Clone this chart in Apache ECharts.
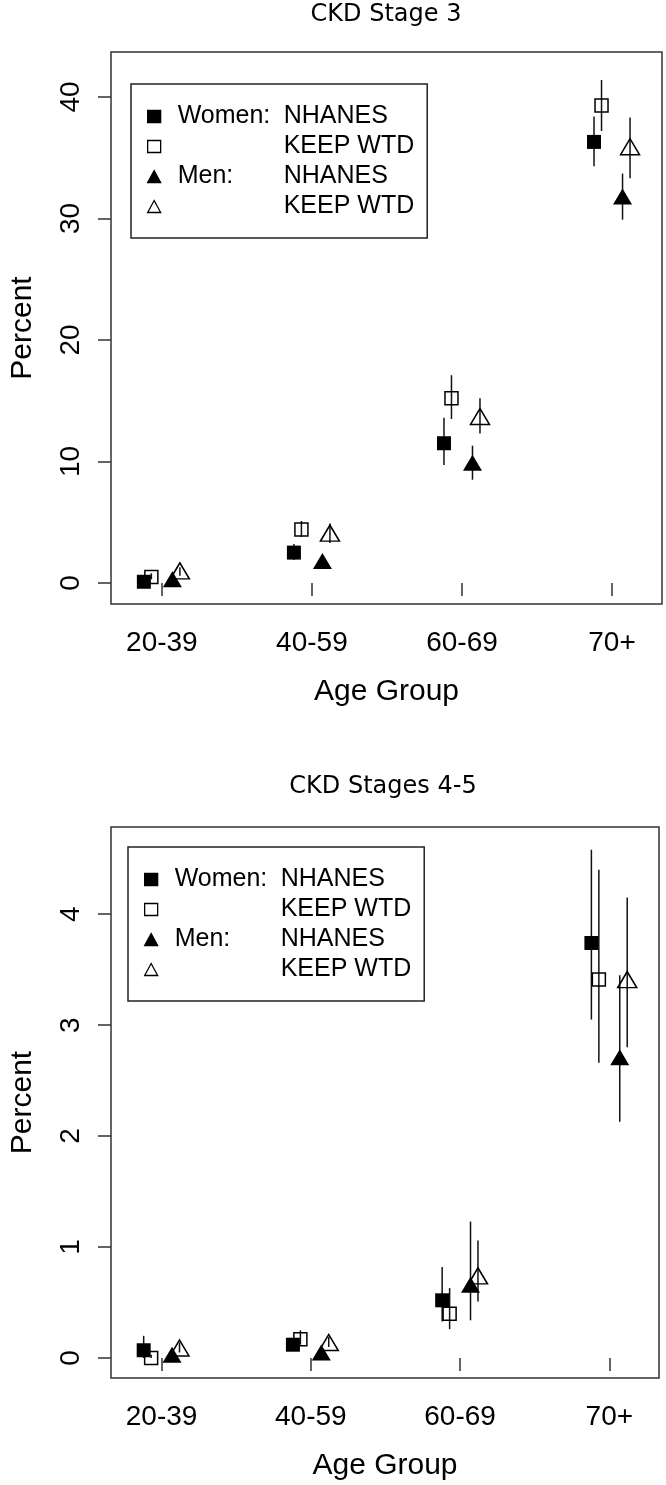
<!DOCTYPE html>
<html>
<head>
  <meta charset="utf-8">
  <title>CKD prevalence by age group</title>
  <script src="https://cdn.jsdelivr.net/npm/echarts@6/dist/echarts.min.js"></script>
  <style>
    html, body { margin: 0; padding: 0; background: #fff; }
  </style>
</head>
<body>
  <div id="main" style="width:666px;height:1485px"></div>
  <script type="text/javascript">
    // age groups on the x axis
    var ageGroups = ['20-39', '40-59', '60-69', '70+'];

    // CKD stage 3, percent (point, lower, upper)
    var s3WomenNhanes    = [0.1, 2.5, 11.5, 36.3];
    var s3WomenNhanesLo  = [0.0, 1.9, 9.7, 34.3];
    var s3WomenNhanesHi  = [0.3, 3.2, 13.6, 38.4];
    var s3WomenKeep      = [0.5, 4.4, 15.2, 39.3];
    var s3WomenKeepLo    = [0.3, 3.8, 13.5, 37.2];
    var s3WomenKeepHi    = [0.8, 5.1, 17.1, 41.4];
    var s3MenNhanes      = [0.3, 1.8, 9.9, 31.8];
    var s3MenNhanesLo    = [0.1, 1.5, 8.5, 29.9];
    var s3MenNhanesHi    = [0.5, 2.1, 11.3, 33.7];
    var s3MenKeep        = [1.0, 4.1, 13.7, 35.9];
    var s3MenKeepLo      = [0.6, 3.3, 12.3, 33.3];
    var s3MenKeepHi      = [1.3, 4.9, 15.2, 38.3];

    // CKD stages 4-5, percent
    var s45WomenNhanes   = [0.07, 0.12, 0.52, 3.74];
    var s45WomenNhanesLo = [0.0, 0.08, 0.33, 3.05];
    var s45WomenNhanesHi = [0.2, 0.16, 0.82, 4.58];
    var s45WomenKeep     = [0.0, 0.17, 0.40, 3.41];
    var s45WomenKeepLo   = [0.0, 0.12, 0.26, 2.66];
    var s45WomenKeepHi   = [0.03, 0.25, 0.63, 4.40];
    var s45MenNhanes     = [0.03, 0.05, 0.66, 2.71];
    var s45MenNhanesLo   = [0.0, 0.02, 0.34, 2.13];
    var s45MenNhanesHi   = [0.08, 0.09, 1.23, 3.45];
    var s45MenKeep       = [0.09, 0.14, 0.74, 3.41];
    var s45MenKeepLo     = [0.05, 0.10, 0.51, 2.80];
    var s45MenKeepHi     = [0.14, 0.19, 1.06, 4.15];

    var s3Ticks  = [0, 10, 20, 30, 40];
    var s45Ticks = [0, 1, 2, 3, 4];

    var groupNames = ['Women NHANES', 'Women KEEP WTD', 'Men NHANES', 'Men KEEP WTD'];
    var legendText = {
      'Women NHANES': '{s| }{a|Women:}{b|NHANES}',
      'Women KEEP WTD': '{s| }{a| }{b|KEEP WTD}',
      'Men NHANES': '{s| }{a|Men:}{b|NHANES}',
      'Men KEEP WTD': '{s| }{a| }{b|KEEP WTD}'
    };

    // dodge of each group around the age tick
    var dodge = [-0.12, -0.07, 0.07, 0.12];
    var looks = [
      { symbol: 'rect', size: 14, filled: true },
      { symbol: 'rect', size: 13, filled: false },
      { symbol: 'triangle', size: [19, 16], filled: true },
      { symbol: 'triangle', size: [19, 16], filled: false }
    ];

    var FONT = 'Liberation Sans, Arial, sans-serif';
    var BOX = '#333';

    function points(vals, k) {
      return vals.map(function (v, i) { return [i + 1 + dodge[k], v]; });
    }
    function bars(lo, hi, k) {
      return lo.map(function (l, i) { return [i + 1 + dodge[k], l, hi[i]]; });
    }

    function renderBar(params, api) {
      var a = api.coord([api.value(0), api.value(1)]);
      var b = api.coord([api.value(0), api.value(2)]);
      return {
        type: 'line',
        shape: { x1: a[0], y1: a[1], x2: b[0], y2: b[1] },
        style: { stroke: '#111', lineWidth: 1.5 }
      };
    }

    function panelSeries(idx, vals, los, his) {
      var out = [];
      for (var k = 0; k < 4; k++) {
        out.push({
          type: 'custom',
          xAxisIndex: idx, yAxisIndex: idx,
          renderItem: renderBar,
          encode: { x: 0, y: [1, 2] },
          z: 2,
          silent: true,
          data: bars(los[k], his[k], k)
        });
      }
      for (var k = 0; k < 4; k++) {
        var lk = looks[k];
        out.push({
          name: groupNames[k],
          type: 'scatter',
          xAxisIndex: idx, yAxisIndex: idx,
          symbol: lk.symbol,
          symbolSize: lk.size,
          z: lk.filled ? 4 : 3,
          itemStyle: {
            color: lk.filled ? '#000' : 'rgba(0,0,0,0)',
            borderColor: '#000',
            borderWidth: lk.filled ? 0 : 1.5,
            opacity: 1
          },
          data: points(vals[k], k)
        });
      }
      return out;
    }

    function xAxisFor(idx) {
      return {
        type: 'value', gridIndex: idx, min: 0.661, max: 4.333,
        name: 'Age Group', nameLocation: 'middle', nameGap: 73,
        nameTextStyle: { fontSize: 30, fontFamily: FONT, color: '#000' },
        axisLine: { show: false },
        splitLine: { show: false },
        axisTick: { show: true, length: 13, customValues: [1, 2, 3, 4], lineStyle: { color: BOX, width: 1.5 } },
        axisLabel: {
          customValues: [1, 2, 3, 4], margin: 25,
          fontSize: 28, fontFamily: FONT, color: '#000',
          formatter: function (v) { return ageGroups[Math.round(v) - 1]; }
        }
      };
    }

    function yAxisFor(idx, min, max, ticks) {
      return {
        type: 'value', gridIndex: idx, min: min, max: max,
        name: 'Percent', nameLocation: 'middle', nameGap: 73,
        nameTextStyle: { fontSize: 30, fontFamily: FONT, color: '#000' },
        axisLine: { show: false },
        splitLine: { show: false },
        axisTick: { show: true, length: 13, customValues: ticks, lineStyle: { color: BOX, width: 1.5 } },
        axisLabel: {
          customValues: ticks, rotate: 90, margin: 26,
          fontSize: 28, fontFamily: FONT, color: '#000'
        }
      };
    }

    function legendFor(left, top) {
      return {
        orient: 'vertical', left: left, top: top,
        data: groupNames,
        padding: [20, 13, 19, 16],
        itemGap: 5, itemWidth: 13, itemHeight: 12,
        borderColor: '#222', borderWidth: 1.5, borderRadius: 0,
        selectedMode: false,
        itemStyle: { borderWidth: 1.3 },
        formatter: function (name) { return legendText[name]; },
        textStyle: {
          fontSize: 25, fontFamily: FONT, color: '#000', lineHeight: 25,
          rich: {
            s: { width: 12, fontSize: 25, lineHeight: 25 },
            a: { width: 106, fontSize: 25, fontFamily: FONT, lineHeight: 25, color: '#000' },
            b: { fontSize: 25, fontFamily: FONT, lineHeight: 25, color: '#000' }
          }
        }
      };
    }

    var myChart = echarts.init(document.getElementById('main'), null, { renderer: 'canvas' });

    var option = {
      backgroundColor: '#fff',
      animation: false,
      graphic: [
        { type: 'text', x: 386, y: 15, style: { text: 'CKD Stage 3', fontSize: 24, fontFamily: 'DejaVu Sans', fill: '#000', align: 'center', verticalAlign: 'middle' } },
        { type: 'text', x: 383, y: 787, style: { text: 'CKD Stages 4-5', fontSize: 24, fontFamily: 'DejaVu Sans', fill: '#000', align: 'center', verticalAlign: 'middle' } }
      ],
      grid: [
        { left: 110, top: 52, width: 552, height: 552, show: true, borderColor: BOX, borderWidth: 1.5, backgroundColor: 'transparent' },
        { left: 107, top: 827, width: 552, height: 551, show: true, borderColor: BOX, borderWidth: 1.5, backgroundColor: 'transparent' }
      ],
      legend: [legendFor(131, 84), legendFor(128, 847)],
      xAxis: [xAxisFor(0), xAxisFor(1)],
      yAxis: [yAxisFor(0, -1.73, 43.7, s3Ticks), yAxisFor(1, -0.18, 4.785, s45Ticks)],
      series: [].concat(
        panelSeries(0,
          [s3WomenNhanes, s3WomenKeep, s3MenNhanes, s3MenKeep],
          [s3WomenNhanesLo, s3WomenKeepLo, s3MenNhanesLo, s3MenKeepLo],
          [s3WomenNhanesHi, s3WomenKeepHi, s3MenNhanesHi, s3MenKeepHi]),
        panelSeries(1,
          [s45WomenNhanes, s45WomenKeep, s45MenNhanes, s45MenKeep],
          [s45WomenNhanesLo, s45WomenKeepLo, s45MenNhanesLo, s45MenKeepLo],
          [s45WomenNhanesHi, s45WomenKeepHi, s45MenNhanesHi, s45MenKeepHi])
      )
    };

    myChart.setOption(option);
  </script>
</body>
</html>
